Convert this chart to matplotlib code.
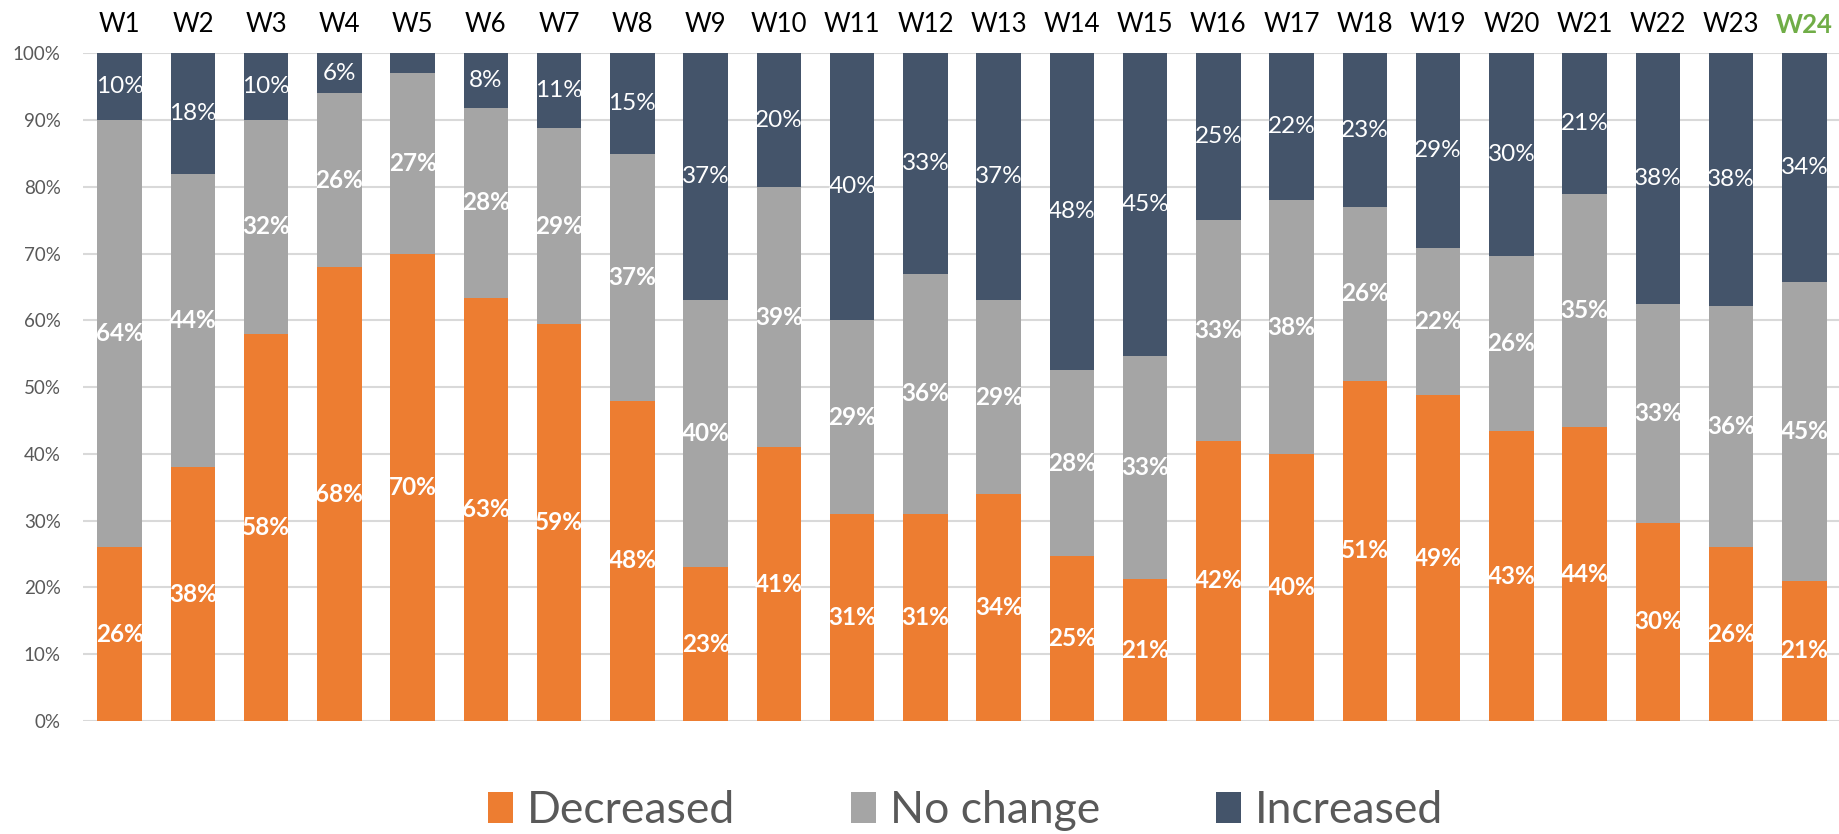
import matplotlib.pyplot as plt
import numpy as np

plt.rcParams['font.family'] = ['Lato', 'DejaVu Sans']

weeks = ["W%d" % i for i in range(1, 25)]
decreased = [26, 38, 58, 68, 70, 63.4, 59.4, 48, 23, 41, 31, 31, 34, 24.7, 21.2, 42, 40, 51, 48.8, 43.4, 44, 29.7, 26, 21]
nochange = [64, 44, 32, 26, 27, 28.4, 29.4, 37, 40, 39, 29, 36, 29, 27.8, 33.4, 33, 38, 26, 22, 26.3, 35, 32.7, 36.1, 44.8]
increased = [10, 18, 10, 6, 3, 8.2, 11.2, 15, 37, 20, 40, 33, 37, 47.5, 45.4, 25, 22, 23, 29.2, 30.3, 21, 37.6, 37.9, 34.2]

c_dec = "#ED7D31"
c_nc = "#A5A5A5"
c_inc = "#44546A"

fig = plt.figure(figsize=(18.39, 8.34), dpi=100)
ax = fig.add_axes([83/1839., 0.1355, 1758/1839., 0.8005])

x = np.arange(len(weeks))
dec = np.array(decreased)
nc = np.array(nochange)
inc = np.array(increased)
w = 0.61

ax.bar(x, dec, w, color=c_dec, label="Decreased", zorder=2)
ax.bar(x, nc, w, bottom=dec, color=c_nc, label="No change", zorder=2)
ax.bar(x, inc, w, bottom=dec+nc, color=c_inc, label="Increased", zorder=2)

def Labels(vals, bottoms, bold):
	for xi, v, b in zip(x, vals, bottoms):
		if v < 4: continue
		ax.text(xi, b + v/2., "%d%%" % round(v), ha="center", va="center", color="white",
			fontsize=17.5, fontweight="bold" if bold else "normal", zorder=3)

Labels(dec, np.zeros(len(x)), True)
Labels(nc, dec, True)
Labels(inc, dec+nc, False)

ax.set_xlim(-0.5, len(weeks)-0.5)
ax.set_ylim(0, 100)
ax.set_yticks(range(0, 101, 10))
ax.set_yticklabels(["%d%%" % t for t in range(0, 101, 10)], fontsize=13.5, color="#595959")
ax.yaxis.grid(True, color="#D9D9D9", linewidth=1.5, zorder=0)
ax.set_axisbelow(True)
ax.tick_params(axis="y", length=0, pad=16)

ax.xaxis.tick_top()
ax.set_xticks(x)
ax.set_xticklabels(weeks, fontsize=18.5, color="black")
ax.tick_params(axis="x", length=0, pad=12)
last = ax.get_xticklabels()[-1]
last.set_color("#70AD47")
last.set_fontweight("bold")

for s in ax.spines.values():
	s.set_visible(False)

fig.legend(loc="center", bbox_to_anchor=(0.525, 0.028), ncol=3, frameon=False,
	fontsize=32, labelcolor="#595959", handlelength=0.56, handleheight=0.7,
	handletextpad=0.32, columnspacing=2.6)

plt.savefig("out.png", dpi=100)
